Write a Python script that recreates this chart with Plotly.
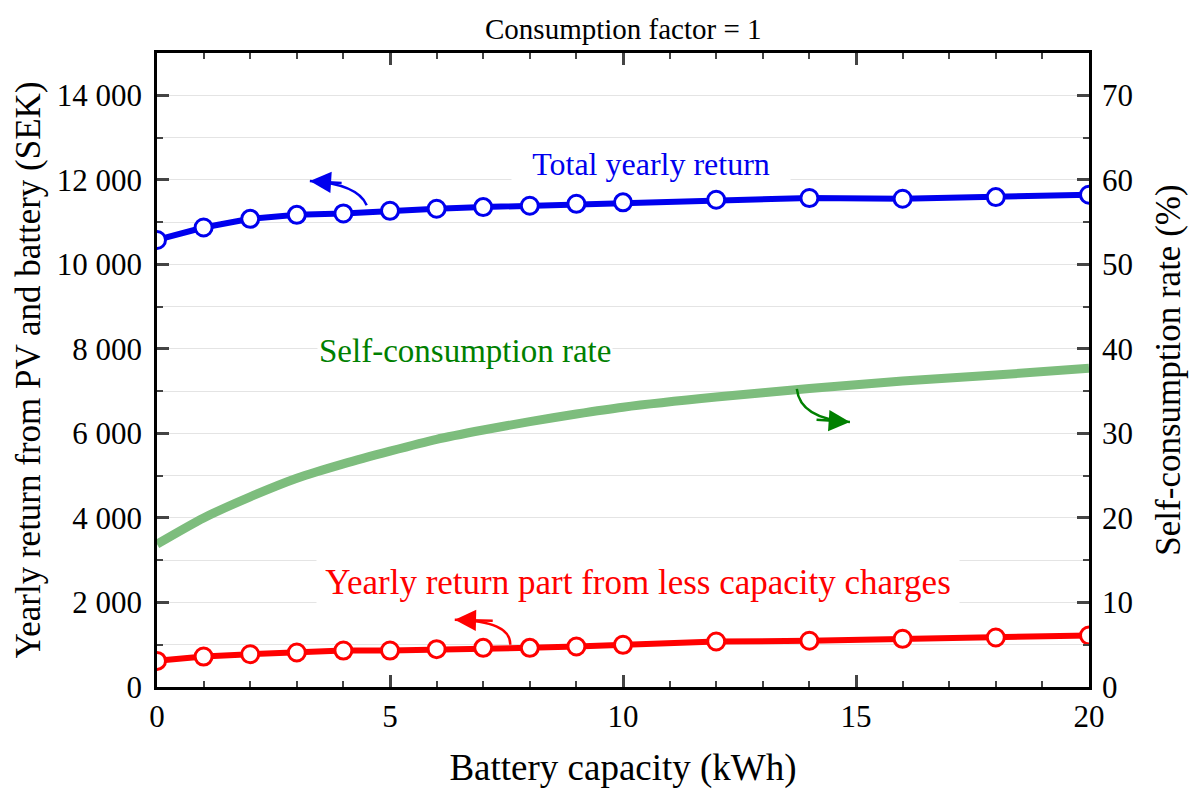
import plotly.graph_objects as go

# battery capacity (kWh) where the returns were computed
capacity = [0, 1, 2, 3, 4, 5, 6, 7, 8, 9, 10, 12, 14, 16, 18, 20]
# total yearly return (SEK)
total_return = [10577, 10872, 11076, 11171, 11204, 11266, 11314, 11354, 11385,
                11432, 11466, 11527, 11568, 11551, 11591, 11646]
# yearly return part from less capacity charges (SEK)
capacity_charge_return = [618, 720, 776, 815, 862, 862, 895, 926, 926, 957,
                          998, 1076, 1093, 1140, 1171, 1219]

# self-consumption rate (%)
sc_capacity = [0, 1, 2, 3, 4, 5, 6, 7, 8, 9, 10, 12, 14, 16, 18, 20]
sc_rate = [16.9, 20.0, 22.5, 24.7, 26.4, 27.9, 29.3, 30.4, 31.4, 32.3, 33.1,
           34.3, 35.3, 36.2, 36.9, 37.7]

left_ticks = [0, 2000, 4000, 6000, 8000, 10000, 12000, 14000]
left_ticktext = ["0", "2 000", "4 000", "6 000", "8 000", "10 000", "12 000", "14 000"]

FONT = "Liberation Serif, DejaVu Serif, serif"
BLUE = "#0000ee"
RED = "#ff0000"
GREEN_LINE = "#7dbd7d"
GREEN_TEXT = "#008000"

fig = go.Figure()

fig.add_trace(go.Scatter(
    x=sc_capacity, y=sc_rate, yaxis="y2", mode="lines",
    line=dict(color=GREEN_LINE, width=9, shape="spline", smoothing=0.7),
    showlegend=False,
))
fig.add_trace(go.Scatter(
    x=capacity, y=total_return, mode="lines+markers",
    line=dict(color=BLUE, width=6),
    marker=dict(symbol="circle", size=17, color="white", line=dict(color=BLUE, width=3)),
    showlegend=False,
))
fig.add_trace(go.Scatter(
    x=capacity, y=capacity_charge_return, mode="lines+markers",
    line=dict(color=RED, width=6),
    marker=dict(symbol="circle", size=17, color="white", line=dict(color=RED, width=3)),
    showlegend=False,
))


def curved_arrow(tail, ctrl, head, color):
    # curved shaft as a quadratic path, arrowhead from an annotation
    path = f"M {tail[0]},{tail[1]} Q {ctrl[0]},{ctrl[1]} {head[0]},{head[1]}"
    fig.add_shape(type="path", path=path, xref="x", yref="y",
                  line=dict(color=color, width=2.5))
    fig.add_annotation(x=head[0], y=head[1], ax=ctrl[0] + (head[0] - ctrl[0]) * 0.3,
                       ay=ctrl[1] + (head[1] - ctrl[1]) * 0.3,
                       xref="x", yref="y", axref="x", ayref="y", text="",
                       showarrow=True, arrowhead=2, arrowsize=1.7, arrowwidth=2.5,
                       arrowcolor=color)


curved_arrow((4.5, 11400), (4.3, 11900), (3.28, 11970), BLUE)
curved_arrow((13.73, 7055), (13.8, 6350), (14.87, 6270), GREEN_TEXT)
curved_arrow((7.58, 998), (7.6, 1560), (6.39, 1590), RED)

fig.add_annotation(x=10.6, y=12380, xref="x", yref="y", text="Total yearly return",
                   showarrow=False, font=dict(family=FONT, size=32, color=BLUE),
                   bgcolor="white", width=276, height=44)
fig.add_annotation(x=6.6, y=7950, xref="x", yref="y", text="Self-consumption rate",
                   showarrow=False, font=dict(family=FONT, size=33, color=GREEN_TEXT),
                   bgcolor="white")
fig.add_annotation(x=10.32, y=2480, xref="x", yref="y",
                   text="Yearly return part from less capacity charges",
                   showarrow=False, font=dict(family=FONT, size=35, color=RED),
                   bgcolor="white", width=640, height=50)

# chart title as a paper annotation so it sits just above the frame
fig.add_annotation(x=0.5, y=1.0, xref="paper", yref="paper", yanchor="bottom",
                   yshift=6, text="Consumption factor = 1", showarrow=False,
                   font=dict(family=FONT, size=29, color="black"))

tick_font = dict(family=FONT, size=31, color="black")
title_font = dict(family=FONT, size=35, color="black")

fig.update_layout(
    width=1200, height=800,
    margin=dict(l=149, r=119, t=45, b=121),
    paper_bgcolor="white", plot_bgcolor="white",
    font=dict(family=FONT, size=31, color="black"),
    xaxis=dict(
        range=[0, 20], tickvals=[0, 5, 10, 15, 20], ticks="inside", ticklen=12,
        tickwidth=2.5, showline=True, linewidth=2.5, linecolor="black", mirror="ticks",
        showgrid=False, zeroline=False, tickfont=tick_font,
        minor=dict(dtick=1, ticks="inside", ticklen=6, tickwidth=2, showgrid=False),
        title=dict(text="Battery capacity (kWh)", font=dict(family=FONT, size=37),
                   standoff=22),
    ),
    yaxis=dict(
        range=[0, 15000], tickvals=left_ticks, ticktext=left_ticktext,
        ticks="inside", ticklen=12, tickwidth=2.5, showline=True, linewidth=2.5,
        linecolor="black", showgrid=True, gridcolor="#e4e4e4", gridwidth=1,
        zeroline=False, tickfont=tick_font, ticklabelstandoff=6,
        minor=dict(dtick=1000, ticks="inside", ticklen=6, tickwidth=2,
                   showgrid=True, gridcolor="#e4e4e4", gridwidth=1),
        title=dict(text="Yearly return from PV and battery (SEK)", font=title_font,
                   standoff=6),
    ),
    yaxis2=dict(
        range=[0, 75], overlaying="y", side="right", tickvals=[0, 10, 20, 30, 40, 50, 60, 70],
        ticks="inside", ticklen=12, tickwidth=2.5, showline=True, linewidth=2.5,
        linecolor="black", showgrid=False, zeroline=False, tickfont=tick_font,
        ticklabelstandoff=4,
        minor=dict(dtick=5, ticks="inside", ticklen=6, tickwidth=2),
        title=dict(text="Self-consumption rate (%)", font=title_font, standoff=24),
    ),
)

fig.write_html("out.html")
